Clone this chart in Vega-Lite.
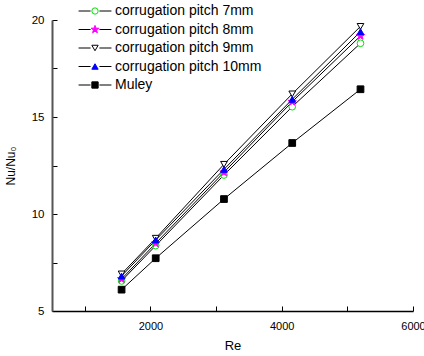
{
  "$schema": "https://vega.github.io/schema/vega-lite/v6.json",
  "width": 361,
  "height": 291,
  "autosize": "none",
  "padding": {"left": 52, "top": 20, "right": 11, "bottom": 45},
  "config": {
    "font": "Liberation Sans",
    "view": {"stroke": null},
    "axis": {"grid": false, "labelColor": "#000", "titleColor": "#000", "titleFontWeight": "normal", "tickColor": "#000"}
  },
  "data": {
    "values": [
      {"Re": 1560, "Nu": 6.55, "series": "corrugation pitch 7mm"},
      {"Re": 2080, "Nu": 8.37, "series": "corrugation pitch 7mm"},
      {"Re": 3120, "Nu": 12.01, "series": "corrugation pitch 7mm"},
      {"Re": 4160, "Nu": 15.53, "series": "corrugation pitch 7mm"},
      {"Re": 5200, "Nu": 18.8, "series": "corrugation pitch 7mm"},
      {"Re": 1560, "Nu": 6.65, "series": "corrugation pitch 8mm"},
      {"Re": 2080, "Nu": 8.49, "series": "corrugation pitch 8mm"},
      {"Re": 3120, "Nu": 12.15, "series": "corrugation pitch 8mm"},
      {"Re": 4160, "Nu": 15.79, "series": "corrugation pitch 8mm"},
      {"Re": 5200, "Nu": 19.18, "series": "corrugation pitch 8mm"},
      {"Re": 1560, "Nu": 6.91, "series": "corrugation pitch 9mm"},
      {"Re": 2080, "Nu": 8.75, "series": "corrugation pitch 9mm"},
      {"Re": 3120, "Nu": 12.56, "series": "corrugation pitch 9mm"},
      {"Re": 4160, "Nu": 16.19, "series": "corrugation pitch 9mm"},
      {"Re": 5200, "Nu": 19.67, "series": "corrugation pitch 9mm"},
      {"Re": 1560, "Nu": 6.8, "series": "corrugation pitch 10mm"},
      {"Re": 2080, "Nu": 8.66, "series": "corrugation pitch 10mm"},
      {"Re": 3120, "Nu": 12.3, "series": "corrugation pitch 10mm"},
      {"Re": 4160, "Nu": 15.91, "series": "corrugation pitch 10mm"},
      {"Re": 5200, "Nu": 19.4, "series": "corrugation pitch 10mm"},
      {"Re": 1560, "Nu": 6.1, "series": "Muley"},
      {"Re": 2080, "Nu": 7.72, "series": "Muley"},
      {"Re": 3120, "Nu": 10.77, "series": "Muley"},
      {"Re": 4160, "Nu": 13.66, "series": "Muley"},
      {"Re": 5200, "Nu": 16.43, "series": "Muley"}
    ]
  },
  "encoding": {
    "x": {
      "field": "Re",
      "type": "quantitative",
      "scale": {"domain": [500, 6000], "nice": false, "zero": false},
      "axis": {
        "title": "Re",
        "titleFontSize": 13,
        "titlePadding": 8,
        "values": [1000, 2000, 3000, 4000, 5000, 6000],
        "format": "d",
        "labelExpr": "datum.value % 2000 == 0 ? datum.label : ''",
        "labelFontSize": 11,
        "labelPadding": 14,
        "labelFlush": false,
        "tickSize": -5,
        "domainColor": "#000",
        "domainWidth": 1.3,
        "encode": {"ticks": {"update": {"y2": {"signal": "datum.value % 2000 == 0 ? -5 : -3"}}}}
      }
    },
    "y": {
      "field": "Nu",
      "type": "quantitative",
      "scale": {"domain": [5, 20], "nice": false, "zero": false},
      "axis": {
        "title": "Nu/Nu₀",
        "titleFontSize": 12,
        "titlePadding": 14,
        "values": [5, 7.5, 10, 12.5, 15, 17.5, 20],
        "labelExpr": "datum.value % 5 == 0 ? datum.label : ''",
        "labelFontSize": 11.5,
        "labelPadding": 13,
        "labelFlush": false,
        "tickSize": -5,
        "domainColor": "#555",
        "domainWidth": 2,
        "encode": {"ticks": {"update": {"x2": {"signal": "datum.value % 5 == 0 ? 5 : 3"}}}}
      }
    }
  },
  "layer": [
    {
      "mark": {"type": "line", "strokeWidth": 1},
      "encoding": {
        "color": {
          "field": "series",
          "type": "nominal",
          "sort": ["corrugation pitch 7mm", "corrugation pitch 8mm", "corrugation pitch 9mm", "corrugation pitch 10mm", "Muley"],
          "scale": {"range": ["#000", "#000", "#000", "#000", "#000"]},
          "legend": {
            "title": null,
            "orient": "none",
            "legendX": 36,
            "legendY": -16,
            "padding": 0,
            "symbolType": "M-5.2,0H-1.4M1.4,0H5.2",
            "symbolSize": 40,
            "symbolStrokeWidth": 1,
            "labelFontSize": 14,
            "labelOpacity": 0,
            "labelOffset": 13,
            "rowPadding": 4.5
          }
        }
      }
    },
    {
      "mark": {"type": "point", "size": 45, "strokeWidth": 1, "opacity": 1, "fillOpacity": 1},
      "encoding": {
        "shape": {
          "field": "series",
          "type": "nominal",
          "scale": {
            "domain": ["corrugation pitch 7mm", "corrugation pitch 8mm", "corrugation pitch 9mm", "corrugation pitch 10mm", "Muley"],
            "range": ["circle", "M0,-1.3L0.306,-0.421L1.236,-0.402L0.494,0.161L0.764,1.052L0,0.52L-0.764,1.052L-0.494,0.161L-1.236,-0.402L-0.306,-0.421Z", "triangle-down", "triangle-up", "square"]
          },
          "legend": {
            "title": null,
            "orient": "none",
            "legendX": 36,
            "legendY": -16,
            "padding": 0,
            "symbolSize": 40,
            "symbolStrokeWidth": 1,
            "labelFontSize": 14,
            "labelColor": "#000",
            "labelOffset": 13,
            "rowPadding": 4.5
          }
        },
        "stroke": {
          "field": "series",
          "type": "nominal",
          "scale": {
            "domain": ["corrugation pitch 7mm", "corrugation pitch 8mm", "corrugation pitch 9mm", "corrugation pitch 10mm", "Muley"],
            "range": ["#00e600", "#ff00ff", "#000000", "#0000ff", "#000000"]
          }
        },
        "fill": {
          "field": "series",
          "type": "nominal",
          "scale": {
            "domain": ["corrugation pitch 7mm", "corrugation pitch 8mm", "corrugation pitch 9mm", "corrugation pitch 10mm", "Muley"],
            "range": ["#ffffff", "#ff00ff", "#ffffff", "#0000ff", "#000000"]
          }
        }
      }
    }
  ]
}
